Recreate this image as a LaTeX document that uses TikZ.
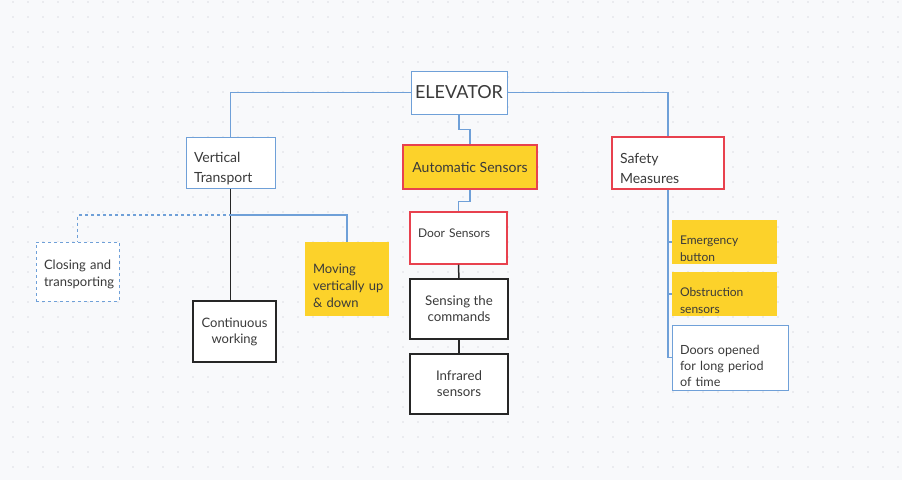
\documentclass[tikz,border=0pt]{standalone}
\usepackage{fontspec}
\setmainfont{Lato}
\usetikzlibrary{positioning}
\definecolor{bgcol}{HTML}{F8F9FB}
\definecolor{dotcol}{HTML}{DDDEE3}
\definecolor{linkblue}{HTML}{6FA0D8}
\definecolor{boxred}{HTML}{E8414E}
\definecolor{notey}{HTML}{FCD22A}
\definecolor{ink}{HTML}{3A3A3A}
\newcommand{\fsz}[2]{\fontsize{#1}{#2}\selectfont}
\tikzset{
  box/.style={rectangle, fill=white, text=ink, font=\fsz{13}{17}, inner xsep=8pt, inner ysep=2pt},
  bluebox/.style={box, draw=linkblue, line width=1pt},
  redbox/.style={box, draw=boxred, line width=1.2pt},
  blackbox/.style={box, draw=black!85, line width=1.5pt, align=center},
  note/.style={box, fill=notey, draw=none, align=left},
  drop/.style={text height=#1},
  link/.style={draw=linkblue, line width=1.1pt},
  tie/.style={draw=black!85, line width=1.5pt}
}
\begin{document}
\begin{tikzpicture}[x=1pt,y=-1pt]
\fill[bgcol] (0,0) rectangle (902,480);
\useasboundingbox (0,0) rectangle (902,480);
\foreach \i in {0,...,59}
  \foreach \j in {0,...,31}
    \fill[dotcol] (13+15*\i,2+15*\j) circle (0.9);

\node[bluebox, inner xsep=3pt, minimum width=96, minimum height=43, font=\fsz{18}{22}] (elev) at (459,92.5) {ELEVATOR};
\node[bluebox, minimum width=89, minimum height=51, text width=73, align=left, font=\fsz{14}{20}, drop=22] (vt) at (230.5,162.5) {Vertical\\Transport};
\node[redbox, fill=notey, minimum width=134, minimum height=44, font=\fsz{14}{20}] (auto) at (470,167) {Automatic Sensors};
\node[redbox, minimum width=112, minimum height=52, text width=96, align=left, font=\fsz{14}{20}, drop=22] (safe) at (668,163) {Safety\\Measures};

\node[redbox, minimum width=97, minimum height=52, text width=81, drop=17, text depth=19, align=left, font=\fsz{12}{16}] (door) at (458.5,238) {Door Sensors};
\node[blackbox, minimum width=98, minimum height=60, font=\fsz{13.3}{16}] (sense) at (459,309) {Sensing the\\commands};
\node[blackbox, minimum width=98, minimum height=60, font=\fsz{13.3}{16}] (infra) at (459,384) {Infrared\\sensors};

\node[bluebox, dashed, minimum width=83, minimum height=59, text width=67, align=left, drop=15.5] (close) at (77.5,271.5) {Closing~and\\transporting};
\node[blackbox, minimum width=83, minimum height=61, font=\fsz{13}{16}] (cont) at (234.5,331.5) {Continuous\\working};
\node[note, minimum width=84, minimum height=74, text width=68, drop=22.5] (move) at (347,279) {Moving\\vertically~up\\\&~down};

\node[note, minimum width=105, minimum height=44, text width=89, font=\fsz{12}{17}, drop=22] (emerg) at (724.5,242) {Emergency\\button};
\node[note, minimum width=105, minimum height=44, text width=89, font=\fsz{12}{17}, drop=22] (obst) at (724.5,294) {Obstruction\\sensors};
\node[bluebox, minimum width=116, minimum height=65, text width=100, align=left, font=\fsz{12.6}{16}, drop=26] (doors) at (730,357.5) {Doors opened\\for long period\\of time};

\draw[link] (elev.west) -| (vt.north);
\draw[link] (elev.east) -| (safe.north);
\draw[link] (elev.south) -- ++(0,15) -| (auto.north);
\draw[link] (auto.south) -- ++(0,12) -| (door.north);
\draw[tie] (door) -- (sense);
\draw[tie] (sense) -- (infra);

\coordinate (split) at (232,215);
\draw[tie] (vt.south) -- (vt.south |- cont.north);
\draw[link] (split) -| (move.north);
\draw[link, dashed] (split) -| (close.north);

\draw[link] (safe.south) -- (safe.south |- doors.west) -- (doors.west);
\draw[link] (safe.south |- emerg.west) -- (emerg.west);
\draw[link] (safe.south |- obst.west) -- (obst.west);
\end{tikzpicture}
\end{document}
